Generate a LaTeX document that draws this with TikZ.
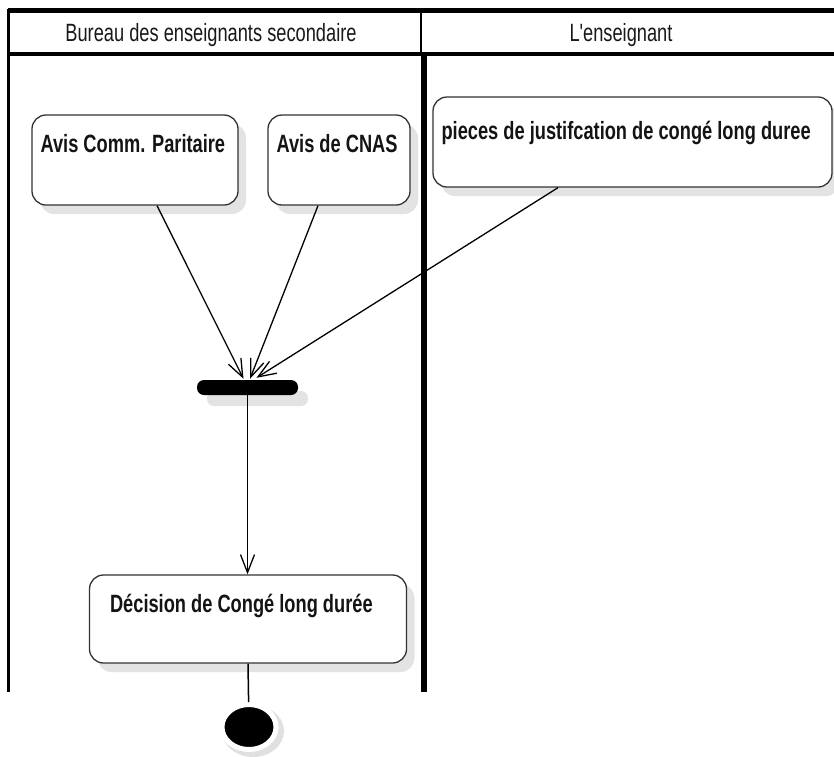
\documentclass[tikz,border=0pt]{standalone}
\usepackage{fontspec}
\setmainfont{Liberation Sans}[FakeStretch=0.73]
\newfontfamily\hdrfont{Liberation Sans}[FakeStretch=0.73]
\usetikzlibrary{arrows.meta,calc,shadows,shapes.geometric}
\begin{document}
\begin{tikzpicture}[x=1pt,y=-1pt,
  act/.style={draw=black!80, line width=1.3pt, rounded corners=14pt, fill=white,
    drop shadow={shadow xshift=8pt, shadow yshift=-9pt, fill=black!11, opacity=1}, inner sep=0pt},
  lbl/.style={anchor=base west, font=\fontsize{25}{28}\selectfont\bfseries, text=black!92, inner sep=0pt},
  hdr/.style={anchor=base, font=\hdrfont\fontsize{25}{28}\selectfont, text=black!90, inner sep=0pt},
  flow/.style={line width=1.3pt, -{Straight Barb[length=18pt,width=14pt]}},
]
\useasboundingbox (0,0) rectangle (834,756);
% swimlanes
\draw[line width=4.5pt] (8,10.5) -- (834,10.5);
\draw[line width=4pt] (8,54) -- (834,54);
\draw[line width=3pt] (8.5,9) -- (8.5,692);
\draw[line width=1.5pt] (421,12) -- (421,54);
\draw[line width=6pt] (423.5,54) -- (423.5,692);
\node[hdr] (h1) at (211,41.5) {Bureau des enseignants secondaire};
\node[hdr] (h2) at (621,41.5) {L'enseignant};
% activities
\node[act, minimum width=206pt, minimum height=90pt] (c1) at (135,160) {};
\node[act, minimum width=142pt, minimum height=90pt] (c2) at (339,160) {};
\node[act, minimum width=399pt, minimum height=90pt] (c3) at (632.5,142) {};
\node[act, minimum width=317pt, minimum height=88pt] (dec) at (248,619) {};
\node[lbl] (t1) at ($(c1.north west)+(9,38)$) {Avis Comm. Paritaire};
\node[lbl] (t2) at ($(c2.north west)+(9,38)$) {Avis de CNAS};
\node[lbl] (t3) at ($(c3.north west)+(9,43)$) {pieces de justifcation de congé long duree};
\node[lbl] (t4) at ($(dec.north west)+(21,38)$) {Décision de Congé long durée};
% join bar
\node[fill=black, rounded corners=7pt, minimum width=101pt, minimum height=15pt, inner sep=0pt,
  drop shadow={shadow xshift=10pt, shadow yshift=-11pt, fill=black!11, opacity=1}] (bar) at (247.5,387.5) {};
% final node
\fill[black!12] (253,731) ellipse (31 and 26);
\node[ellipse, fill=black, draw=white, line width=5pt, minimum width=54pt, minimum height=45pt, inner sep=0pt] (end) at (249,727) {};
% flows
\draw[flow] ($(c1.south)+(22,0)$) -- ($(bar.north)+(-4,-1)$);
\draw[flow] ($(c2.south)+(-21,0)$) -- ($(bar.north)+(2.5,-1)$);
\draw[flow] ($(c3.south)+(-74.5,0)$) -- ($(bar.north)+(9,-2)$);
\draw[flow] (bar.south) -- (bar.south |- dec.north);
\draw[line width=1.5pt] (dec.south) -- (end);
\end{tikzpicture}
\end{document}
